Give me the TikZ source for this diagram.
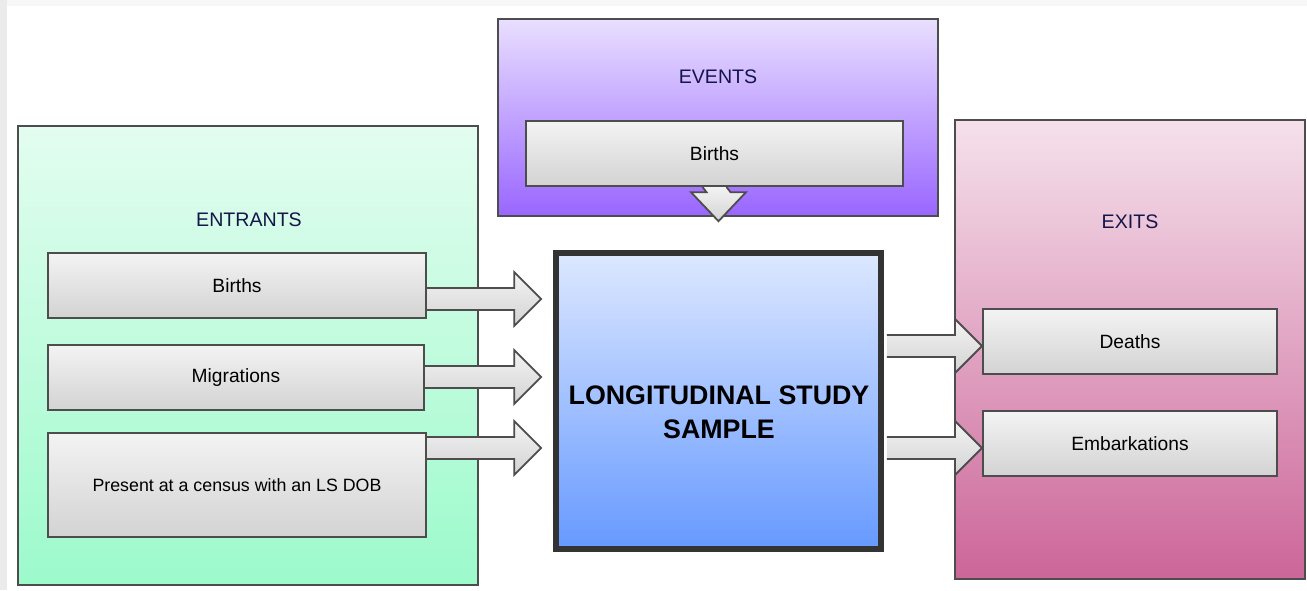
\documentclass[tikz,border=0pt]{standalone}
\usepackage{fontspec}
\setmainfont{Liberation Sans}
\usetikzlibrary{calc}
\definecolor{entrtop}{HTML}{E3FDF0}
\definecolor{entrbot}{HTML}{9CFACB}
\definecolor{evtop}{HTML}{E9DFFF}
\definecolor{evbot}{HTML}{9966FF}
\definecolor{extop}{HTML}{F5E1EB}
\definecolor{exbot}{HTML}{CC6699}
\definecolor{lsstop}{HTML}{DDE8FF}
\definecolor{lssbot}{HTML}{6699FF}
\definecolor{boxtop}{HTML}{F3F3F3}
\definecolor{boxbot}{HTML}{D3D3D3}
\definecolor{edge}{HTML}{4D4D4D}
\definecolor{headtext}{HTML}{15154A}
\tikzset{
 group/.style={shape=rectangle,draw=edge,line width=1pt,inner sep=0pt},
 item/.style={shape=rectangle,draw=edge,line width=1pt,top color=boxtop,bottom color=boxbot,
  minimum height=32.5pt,inner sep=0pt,font=\fontsize{9.6}{11}\selectfont},
 heading/.style={text=headtext,font=\fontsize{9.8}{12}\selectfont},
 fatarrow/.style={draw=edge,line width=0.9pt,top color=boxtop,bottom color=boxbot,line join=miter}
}
% block arrows between two points
\newcommand{\fatright}[2]{%
 \path (#1) coordinate (fs) (#2) coordinate (ft);
 \draw[fatarrow] ($(fs)+(0,5.5pt)$) -- ($(ft)+(-13.5pt,5.5pt)$) -- ($(ft)+(-13.5pt,13.5pt)$) -- (ft)
  -- ($(ft)+(-13.5pt,-13.5pt)$) -- ($(ft)+(-13.5pt,-5.5pt)$) -- ($(fs)+(0,-5.5pt)$);}
\newcommand{\fatdown}[2]{%
 \path (#1) coordinate (fs) (#2) coordinate (ft);
 \draw[fatarrow] ($(fs)+(-6pt,0)$) -- ($(ft)+(-6pt,14.5pt)$) -- ($(ft)+(-13.75pt,14.5pt)$) -- (ft)
  -- ($(ft)+(13.75pt,14.5pt)$) -- ($(ft)+(6pt,14.5pt)$) -- ($(fs)+(6pt,0)$);}
\begin{document}
\begin{tikzpicture}[x=0.5pt,y=-0.5pt]
 \useasboundingbox (0,0) rectangle (1307,590);
 \fill[white] (0,0) rectangle (1307,590);
 \fill[black!8] (0,0) rectangle (7,590);
 \fill[black!3] (7,0) rectangle (1307,6);
 % groups
 \node (entr) at (248,355.5) [group,minimum width=230pt,minimum height=229.5pt,top color=entrtop,bottom color=entrbot] {};
 \node (evts) at (718,117.5) [group,minimum width=220pt,minimum height=98.5pt,top color=evtop,bottom color=evbot] {};
 \node (exts) at (1130,349.5) [group,minimum width=175pt,minimum height=229.5pt,top color=extop,bottom color=exbot] {};
 \node (entrlab) at (249,220) [heading] {ENTRANTS};
 \node (evtslab) at (718,77) [heading] {EVENTS};
 \node (extslab) at (1130,222) [heading] {EXITS};
 % items
 \node (births) at (237,285.5) [item,minimum width=189pt] {Births};
 \node (migr) at (236,377.5) [item,minimum width=188pt] {Migrations};
 \node (census) at (237,485) [item,minimum width=189pt,minimum height=52pt,font=\fontsize{8.9}{11}\selectfont] {Present at a census with an LS DOB};
 \node (evbirths) at (714.5,153.5) [item,minimum width=188.5pt] {Births};
 \node (deaths) at (1130,341.5) [item,minimum width=147pt] {Deaths};
 \node (embark) at (1130,443.5) [item,minimum width=147pt] {Embarkations};
 % sample
 \node (lss) at (718.5,401) [shape=rectangle,draw=black!80,line width=2.8pt,minimum width=162.7pt,minimum height=148.2pt,top color=lsstop,bottom color=lssbot] {};
 \node (lsstext) at (719,412) [align=center,font=\bfseries\fontsize{13.4}{17}\selectfont] {LONGITUDINAL STUDY\\SAMPLE};
 % arrows
 \coordinate (a1) at (0,299);
 \coordinate (a2) at (0,377);
 \coordinate (a3) at (0,448);
 \coordinate (x1) at (0,346);
 \coordinate (x2) at (0,448);
 \coordinate (lssin) at ([xshift=-5.9pt]lss.west);
 \coordinate (lssout) at ([xshift=1.4pt]lss.east);
 \fatright{births.east |- a1}{lssin |- a1}
 \fatright{migr.east |- a2}{lssin |- a2}
 \fatright{census.east |- a3}{lssin |- a3}
 \fatright{lssout |- x1}{deaths.west |- x1}
 \fatright{lssout |- x2}{embark.west |- x2}
 \fatdown{evbirths.south}{[yshift=14.4pt]lss.north}
\end{tikzpicture}
\end{document}
